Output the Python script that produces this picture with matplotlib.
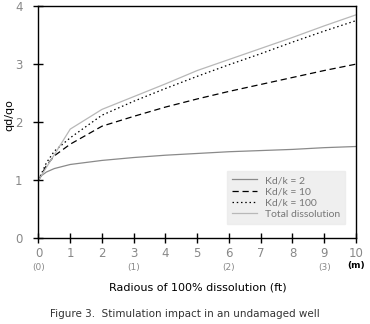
import matplotlib
matplotlib.use("Agg")
import matplotlib.pyplot as plt

x_kd2 = [0, 0.1, 0.25, 0.5, 1, 2, 3, 4, 5, 6, 7, 8, 9, 10]
y_kd2 = [1.0, 1.08, 1.14, 1.2, 1.27, 1.34, 1.39, 1.43, 1.46, 1.49, 1.51, 1.53, 1.56, 1.58]

x_kd10 = [0, 0.25, 0.5, 1, 2, 3, 4, 5, 6, 7, 8, 9, 10]
y_kd10 = [1.0, 1.25, 1.42, 1.62, 1.93, 2.1, 2.26, 2.4, 2.53, 2.65, 2.77, 2.89, 3.0]

x_kd100 = [0, 0.25, 0.5, 1, 2, 3, 4, 5, 6, 7, 8, 9, 10]
y_kd100 = [1.0, 1.3, 1.5, 1.73, 2.12, 2.36, 2.58, 2.79, 2.99, 3.18, 3.38, 3.57, 3.75]

x_total = [0, 1, 2, 3, 4, 5, 6, 7, 8, 9, 10]
y_total = [1.0, 1.88, 2.22, 2.44, 2.66, 2.89, 3.08, 3.27, 3.46, 3.66, 3.85]

labels = ["Kd/k = 2", "Kd/k = 10", "Kd/k = 100", "Total dissolution"]
xticks = [0, 1, 2, 3, 4, 5, 6, 7, 8, 9, 10]
yticks = [0, 1, 2, 3, 4]
m_pos = [0, 3, 6, 9]
m_labels = ["(0)", "(1)", "(2)", "(3)"]

fig = plt.figure(figsize=(3.7, 3.24), dpi=100)
ax = fig.add_axes([0.104, 0.265, 0.858, 0.716])

ax.plot(x_kd2, y_kd2, color="#8a8a8a", lw=0.9, label=labels[0])
ax.plot(x_kd10, y_kd10, color="black", lw=0.9, ls=(0, (5, 3)), label=labels[1])
ax.plot(x_kd100, y_kd100, color="black", lw=0.9, ls=(0, (1.2, 2.2)), label=labels[2])
ax.plot(x_total, y_total, color="#b8b8b8", lw=0.9, label=labels[3])

ax.set_xlim(0, 10)
ax.set_ylim(0, 4)
ax.set_xticks(xticks)
ax.set_yticks(yticks)
ax.tick_params(direction="inout", length=7, width=1, colors="black",
               labelcolor="#888888", labelsize=8.5)
ax.tick_params(axis="y", pad=8)
ax.tick_params(axis="x", pad=3)
for s in ax.spines.values():
    s.set_linewidth(1.0)

for p, t in zip(m_pos, m_labels):
    ax.text(p, -0.125, t, transform=ax.get_xaxis_transform(), ha="center",
            va="center", fontsize=6.5, color="#888888")
ax.text(10, -0.12, "(m)", transform=ax.get_xaxis_transform(), ha="center",
        va="center", fontsize=6.5, color="black", fontweight="bold")

fig.text(0.025, 0.645, "qd/qo", rotation=90, ha="center", va="center",
         fontsize=8)
fig.text(0.535, 0.113, "Radious of 100% dissolution (ft)", ha="center",
         va="center", fontsize=8)
fig.text(0.5, 0.03, "Figure 3.  Stimulation impact in an undamaged well",
         ha="center", va="center", fontsize=7.5, color="#333333")

leg = ax.legend(loc="lower right", bbox_to_anchor=(0.982, 0.037), frameon=True,
                prop={"family": "Lato", "size": 7.5}, handlelength=2.4,
                labelspacing=0.2, borderpad=0.5, handletextpad=0.7,
                fancybox=False)
leg.get_frame().set_facecolor("#ebebeb")
leg.get_frame().set_edgecolor("#ebebeb")
for t in leg.get_texts():
    t.set_color("#777777")

fig.savefig("out.png", dpi=100)
